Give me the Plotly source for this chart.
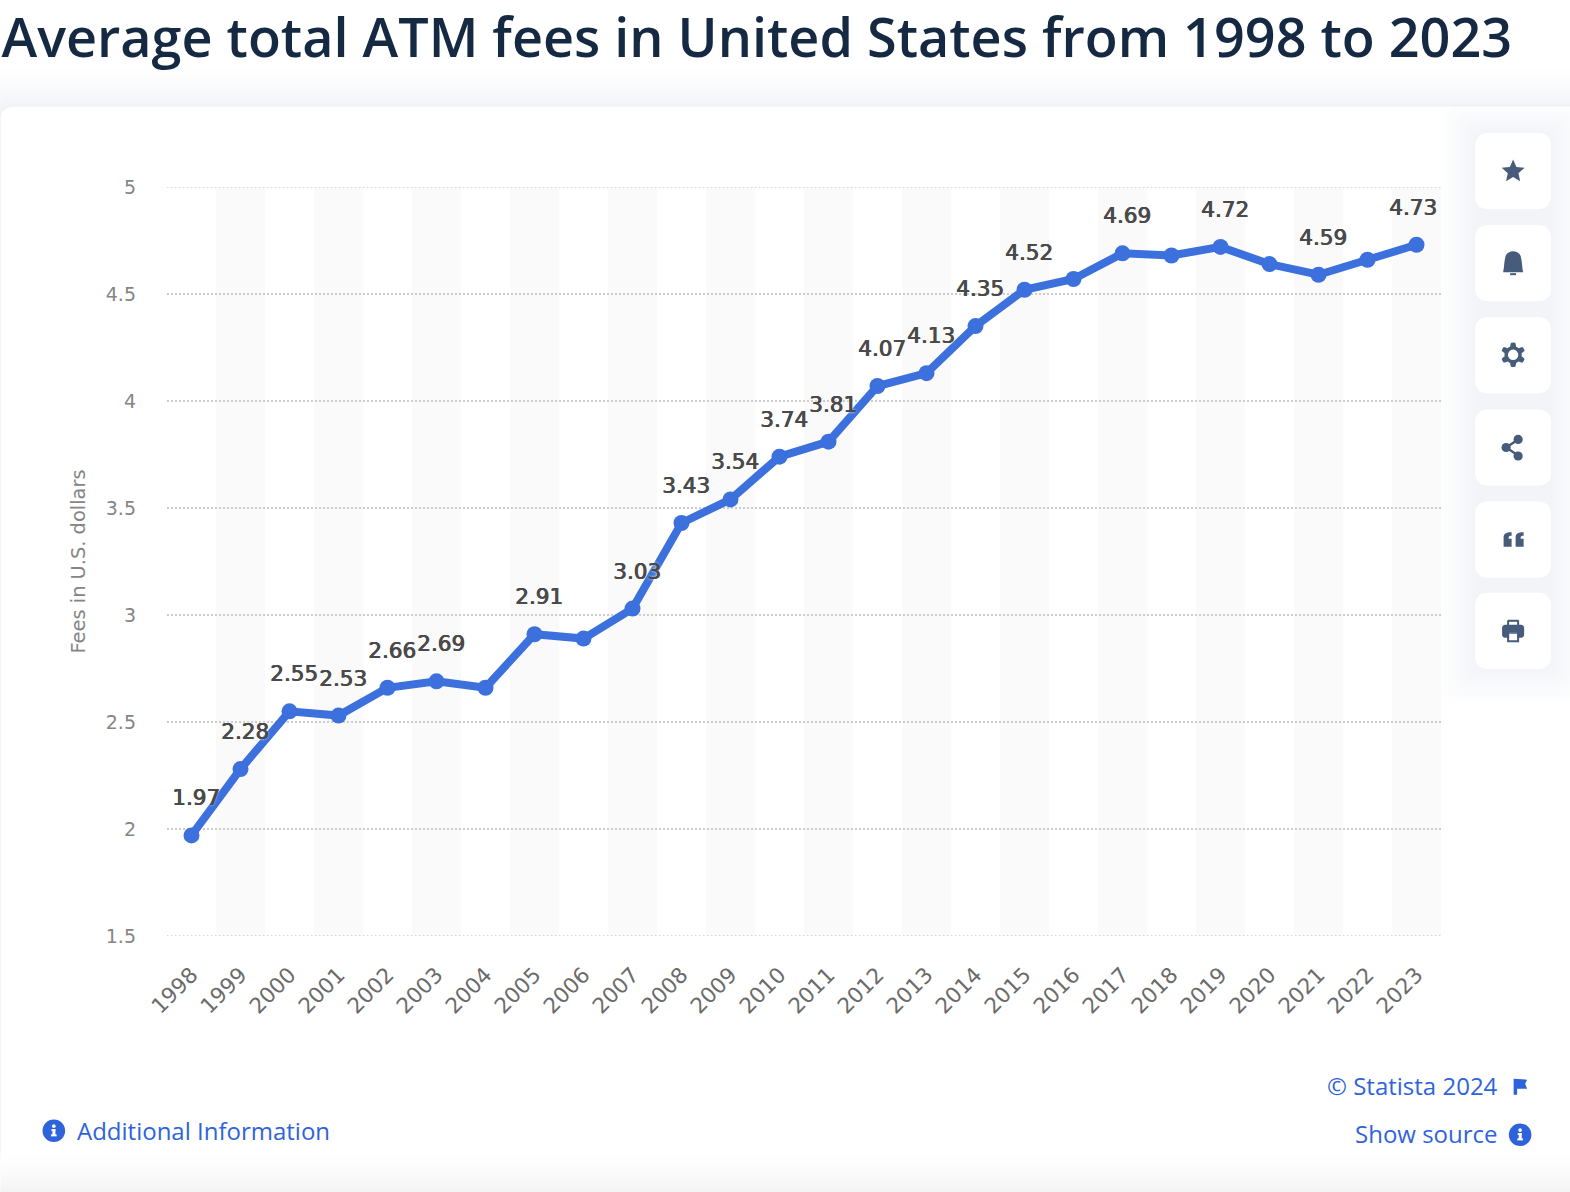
import numpy as np
import plotly.graph_objects as go

# ---------- data ----------
years = [str(y) for y in range(1998, 2024)]
fees = [1.97, 2.28, 2.55, 2.53, 2.66, 2.69, 2.66, 2.91, 2.89, 3.03, 3.43, 3.54, 3.74,
        3.81, 4.07, 4.13, 4.35, 4.52, 4.57, 4.69, 4.68, 4.72, 4.64, 4.59, 4.66, 4.73]
labelled_years = ["1998", "1999", "2000", "2001", "2002", "2003", "2005", "2007", "2008",
                  "2009", "2010", "2011", "2012", "2013", "2014", "2015", "2017", "2019",
                  "2021", "2023"]
y_ticks = [1.5, 2, 2.5, 3, 3.5, 4, 4.5, 5]
y_tick_labels = ["1.5", "2", "2.5", "3", "3.5", "4", "4.5", "5"]
striped_years = years[1::2]

title_text = "Average total ATM fees in United States from 1998 to 2023"
y_title = "Fees in U.S. dollars"

# ---------- layout geometry ----------
W, H = 1570, 1192
S = 1570 / 1568
PL, PR, PT, PB = 167 * S, 1439 * S, 187 * S, 934.6 * S
BLUE = "#3c70dc"
LINK = "#2f63dc"
ICON = "#475c7a"
GRID = "#cccccc"
GRID_DASH = "1.5px 2.5px"

def X(px):
    return (px * S - PL) / (PR - PL)

def Y(py):
    return (PB - py * S) / (PB - PT)

def path(cmds):
    out = []
    for c in cmds:
        if isinstance(c, str):
            out.append(c)
        else:
            out.append(f"{X(c[0]):.5f},{Y(c[1]):.5f}")
    return " ".join(out)

def rrect(x0, y0, x1, y1, r):
    k = r * 0.45
    return path(["M", (x0 + r, y0), "L", (x1 - r, y0),
                 "C", (x1 - k, y0), (x1, y0 + k), (x1, y0 + r),
                 "L", (x1, y1 - r),
                 "C", (x1, y1 - k), (x1 - k, y1), (x1 - r, y1),
                 "L", (x0 + r, y1),
                 "C", (x0 + k, y1), (x0, y1 - k), (x0, y1 - r),
                 "L", (x0, y0 + r),
                 "C", (x0, y0 + k), (x0 + k, y0), (x0 + r, y0), "Z"])

def poly(points):
    cmds = []
    for i, p in enumerate(points):
        cmds += ["M" if i == 0 else "L", tuple(p)]
    return path(cmds + ["Z"])

def blend(c, t):
    """Mix white towards the RGB tuple c by fraction t."""
    return "rgb(" + ",".join(str(int(round(255 + (v - 255) * t))) for v in c) + ")"

shapes = []

def add_path(d, color, opacity=1.0, layer="below"):
    shapes.append(dict(type="path", xref="paper", yref="paper", path=d, fillcolor=color,
                       opacity=opacity, line=dict(width=0), layer=layer))

def add_circle(cx, cy, r, color, layer="above"):
    shapes.append(dict(type="circle", xref="paper", yref="paper", x0=X(cx - r), x1=X(cx + r),
                       y0=Y(cy + r), y1=Y(cy - r), fillcolor=color, line=dict(width=0), layer=layer))

def add_rect(x0, y0, x1, y1, color, opacity=1.0, layer="below"):
    shapes.append(dict(type="rect", xref="paper", yref="paper", x0=X(x0), x1=X(x1),
                       y0=Y(y1), y1=Y(y0), fillcolor=color, opacity=opacity,
                       line=dict(width=0), layer=layer))

# card shadow on the page, then the white card
steps = 14
for i in range(steps, 0, -1):
    t = (1 - i / (steps + 1)) ** 1.6
    add_path(rrect(1 - i * 3, 107 - i * 3, W + 40, H + 60, 12 + i * 3), blend((240, 242, 246), t))
add_path(rrect(1, 107, W + 40, H + 60, 12), "#ffffff")
# soft fade at the bottom of the card
for i in range(steps):
    t = ((i + 1) / steps) ** 1.6
    add_rect(1, 1150 + i * 3, W + 5, H + 5, blend((243, 243, 244), t))
# soft halo at the right-hand tool column, kept inside the card
for i in range(steps, 0, -1):
    t = (1 - i / (steps + 1)) ** 1.6
    add_path(rrect(1473 - i * 3, max(108, 133 - i * 3), 1549 + i * 3, 668 + i * 3, 12),
             blend((242, 244, 248), t))
add_path(rrect(1473, 133, 1549, 668, 12), blend((242, 244, 248), 1))

# stripes behind the plot
for yr in striped_years:
    shapes.append(dict(type="rect", xref="x", yref="paper", x0=years.index(yr) - 0.5,
                       x1=years.index(yr) + 0.5, y0=0, y1=1, fillcolor="#fafafa",
                       line=dict(width=0), layer="below"))

# grid lines at the two ends of the value axis
for v in (y_ticks[0], y_ticks[-1]):
    shapes.append(dict(type="line", xref="paper", yref="y", x0=0, x1=1, y0=v, y1=v,
                       line=dict(color=GRID, width=1.5, dash=GRID_DASH), layer="below"))

# tool buttons
for top in (133, 225, 317, 409, 501, 592):
    add_path(rrect(1473, top, 1549, top + 76, 12), "#ffffff")

# star
cx, cy = 1511, 171
ang = np.radians(np.arange(10) * 36 - 90)
rad = np.where(np.arange(10) % 2 == 0, 12, 5.6)
add_path(poly(np.c_[cx + rad * np.cos(ang), cy + 0.5 + rad * np.sin(ang)]), ICON, layer="above")
# bell
add_path(path(["M", (1501, 272), "C", (1502, 268), (1502, 262), (1503, 258),
               "C", (1504, 249), (1518, 249), (1519, 258),
               "C", (1520, 262), (1520, 268), (1521, 272), "Z"]), ICON, layer="above")
add_rect(1508, 273, 1514, 275, ICON, layer="above")
# gear
cx, cy = 1511, 354.5
ang = np.radians(np.arange(0, 360, 5))
rad = 10.4 + 1.8 * np.clip(np.cos(6 * (ang - np.pi / 2)) * 2.2, -1, 1)
add_path(poly(np.c_[cx + rad * np.cos(ang), cy + rad * np.sin(ang)]), ICON, layer="above")
add_circle(cx, cy, 5.2, "#ffffff")
# share
for a, b in (((1516, 439), (1504, 447)), ((1504, 447), (1516, 455))):
    shapes.append(dict(type="line", xref="paper", yref="paper", x0=X(a[0]), x1=X(b[0]), y0=Y(a[1]),
                       y1=Y(b[1]), line=dict(color=ICON, width=2.5), layer="above"))
add_circle(1516, 439, 4.6, ICON)
add_circle(1504, 447, 4.6, ICON)
add_circle(1516, 455.5, 4.6, ICON)
# quote marks
for dx in (-1.5, 10.5):
    add_path(path(["M", (1503 + dx, 546), "L", (1503 + dx, 537),
                   "C", (1503 + dx, 533), (1505 + dx, 531.5), (1511 + dx, 531.5),
                   "L", (1511 + dx, 535), "C", (1508.5 + dx, 535), (1508 + dx, 535.5), (1508 + dx, 538),
                   "L", (1511 + dx, 538), "L", (1511 + dx, 546), "Z"]), ICON, layer="above")
# printer
add_path(rrect(1505, 619, 1517, 627, 1.5), ICON, layer="above")
add_rect(1507, 621, 1515, 626, "#ffffff", layer="above")
add_path(rrect(1500, 624, 1522, 637, 3), ICON, layer="above")
add_rect(1507, 632, 1515, 640, "#ffffff", layer="above")
add_path(path(["M", (1505, 632), "L", (1517, 632), "L", (1517, 641.5), "L", (1505, 641.5), "Z",
               "M", (1507, 633), "L", (1507, 639.5), "L", (1515, 639.5), "L", (1515, 633), "Z"]),
         ICON, layer="above")

# info circles
for cx, cy in ((54, 1129), (1518, 1133)):
    add_circle(cx, cy, 11.3, LINK)
    add_circle(cx, cy - 4.6, 1.8, "#ffffff")
    add_rect(cx - 2.4, cy - 1.6, cx + 1.6, cy + 0.2, "#ffffff", layer="above")
    add_rect(cx - 1.4, cy - 1.6, cx + 1.6, cy + 4.2, "#ffffff", layer="above")
    add_rect(cx - 2.8, cy + 3.6, cx + 2.8, cy + 5.6, "#ffffff", layer="above")
# flag
add_path(path(["M", (1511.5, 1077), "L", (1525, 1078), "L", (1523, 1082), "L", (1525, 1087),
               "L", (1515, 1087), "L", (1515, 1093), "L", (1511.5, 1093), "Z"]), LINK, layer="above")

# ---------- annotations ----------
annotations = []
for yr in labelled_years:
    i = years.index(yr)
    annotations.append(dict(
        x=i, y=fees[i], xref="x", yref="y", text=f"{fees[i]:.2f}",
        showarrow=False, xanchor="center", yanchor="middle",
        xshift=-3.5 if yr == "2023" else 4, yshift=37.5,
        font=dict(family="DejaVu Sans", size=21.5, color="#4a4a4a",
                  shadow="0.7px 0 0 #4a4a4a, 0 0.4px 0 #4a4a4a, 0 0 3px #ffffff")))

def page_text(text, px, py, anchor, size=24, color=LINK):
    annotations.append(dict(x=X(px), y=Y(py), xref="paper", yref="paper", text=text, showarrow=False,
                            xanchor=anchor, yanchor="middle", borderpad=0, borderwidth=0,
                            font=dict(family="Open Sans", size=size, color=color)))

page_text("Additional Information", 77, 1129, "left")
page_text("© Statista 2024", 1496, 1084, "right")
page_text("Show source", 1496, 1132, "right")

# ---------- figure ----------
fig = go.Figure(go.Scatter(
    x=years, y=fees, mode="lines+markers",
    line=dict(color=BLUE, width=8), marker=dict(color=BLUE, size=16),
    cliponaxis=False, hoverinfo="x+y"))

fig.update_layout(
    width=W, height=H, autosize=False, showlegend=False,
    paper_bgcolor="#ffffff", plot_bgcolor="rgba(0,0,0,0)",
    margin=dict(l=PL, r=W - PR, t=PT, b=H - PB, pad=0),
    title=dict(text=title_text, x=1.5 / W, xanchor="left", y=1 - 38 / H, yanchor="middle",
               xref="container", yref="container", pad=dict(l=0, r=0, t=0, b=0),
               font=dict(family="Open Sans", size=53.95, color="#152943", weight=600)),
    xaxis=dict(type="category", categoryorder="array", categoryarray=years, range=[-0.5, 25.5],
               tickangle=-45, showgrid=False, showline=False, zeroline=False, ticks="",
               ticklabelstandoff=21, tickfont=dict(family="DejaVu Sans", size=21.5, color="#6b6b6b")),
    yaxis=dict(range=[1.5, 5], tickmode="array", tickvals=y_ticks, ticktext=y_tick_labels,
               showgrid=True, gridcolor=GRID, griddash=GRID_DASH, gridwidth=1.5, showline=False,
               zeroline=False, ticks="", ticklabelstandoff=30,
               tickfont=dict(family="DejaVu Sans", size=19, color="#858585"),
               title=dict(text=y_title, standoff=14,
                          font=dict(family="DejaVu Sans", size=19.4, color="#858585"))),
    shapes=shapes, annotations=annotations)

fig.write_html("out.html", config=dict(displayModeBar=False),
               post_script="document.body.style.margin='0';document.body.style.overflow='hidden';")
